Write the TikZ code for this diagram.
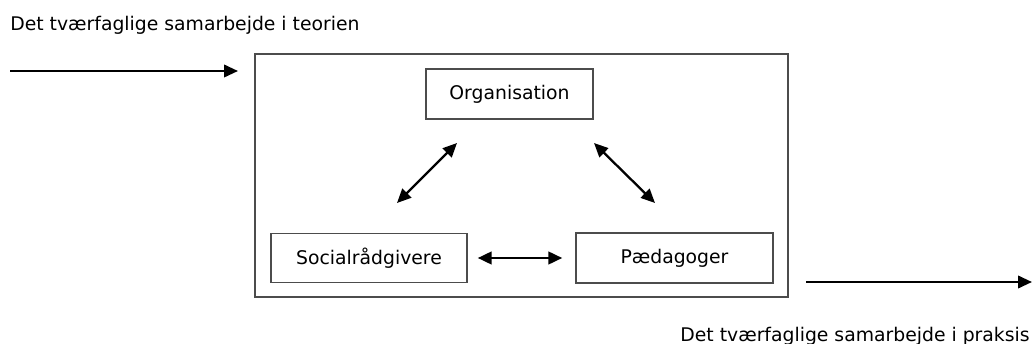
\documentclass[tikz,border=0pt]{standalone}
\usepackage{fontspec}
\setmainfont{DejaVu Sans}
\usetikzlibrary{arrows.meta}

\tikzset{
  boks/.style={draw=black!70, line width=0.8pt, rectangle, inner sep=0pt},
  pil/.style={line width=1.3pt, -{Triangle[length=0.28cm,width=0.25cm]}},
  dobbeltpil/.style={line width=1.3pt, {Triangle[length=0.28cm,width=0.25cm]}-{Triangle[length=0.28cm,width=0.25cm]}},
}

\begin{document}
\begin{tikzpicture}[x=0.02cm, y=-0.02cm, font=\fontsize{10.7}{12}\selectfont]
\useasboundingbox (0,0) rectangle (1032,344);
\node[boks, minimum width=10.66cm, minimum height=4.86cm] (ramme) at (521.5,175.5) {};
\node[boks, minimum width=3.34cm, minimum height=1.0cm] (organisation) at (509.5,94) {Organisation};
\node[boks, minimum width=3.92cm, minimum height=0.98cm] (social) at (369,258) {Socialrådgivere};
\node[boks, minimum width=3.94cm, minimum height=1.0cm] (paedagog) at (674.5,258) {Pædagoger};
\node[anchor=base west, inner sep=0pt] (teori) at (10,31) {Det tværfaglige samarbejde i teorien};
\node[anchor=base east, inner sep=0pt] (praksis) at (1030,342) {Det tværfaglige samarbejde i praksis};
\coordinate (indstart) at (10,71);
\coordinate (indslut) at (238,71);
\coordinate (udstart) at (806,282);
\coordinate (udslut) at (1032,282);
\coordinate (sv) at (397,203);
\coordinate (ov) at (457,143);
\coordinate (oh) at (594,143);
\coordinate (ph) at (655,203);
\draw[pil] (indstart) -- (indslut);
\draw[pil] (udstart) -- (udslut);
\draw[dobbeltpil] (sv) -- (ov);
\draw[dobbeltpil] (oh) -- (ph);
\draw[dobbeltpil, line width=1.6pt, shorten <=5.7pt, shorten >=7.4pt] (social.east) -- (paedagog.west);
\end{tikzpicture}
\end{document}
